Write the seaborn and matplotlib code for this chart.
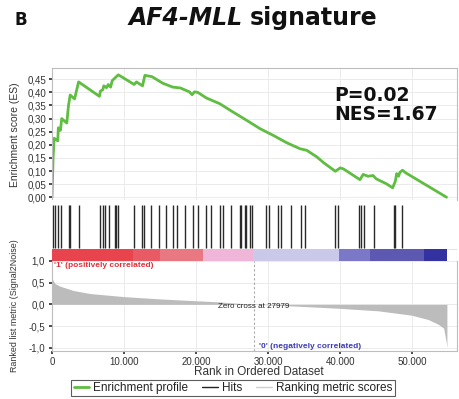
import numpy as np
import pandas as pd
import matplotlib
matplotlib.use("Agg")
import matplotlib.pyplot as plt
from matplotlib.ticker import FuncFormatter
from matplotlib.lines import Line2D
import seaborn as sns

# ---------------- data ----------------
es_rank = [0, 150, 300, 800, 880, 1170, 1350, 2050, 2290, 2520, 3130, 3690,
           6580, 6720, 7050, 7190, 7570, 7800, 8130, 8360, 9200, 10230, 11400,
           11720, 12560, 12890, 13870, 15360, 16760, 17800, 19070, 19440, 19770,
           20230, 21400, 23260, 25120, 26980, 28840, 30700, 32560, 34420, 35350,
           36740, 37730, 39320, 40000, 40450, 42730, 43180, 43860, 44550, 45000,
           46360, 47270, 47640, 47820, 48090, 48270, 48640, 49090, 54750]
es_score = [0.0, 0.15, 0.225, 0.215, 0.265, 0.255, 0.30, 0.283, 0.35, 0.39, 0.375, 0.44,
            0.385, 0.405, 0.41, 0.425, 0.418, 0.43, 0.42, 0.445, 0.467, 0.45, 0.43,
            0.44, 0.425, 0.465, 0.46, 0.435, 0.42, 0.417, 0.402, 0.391, 0.402,
            0.40, 0.379, 0.357, 0.325, 0.294, 0.262, 0.236, 0.208, 0.185, 0.179,
            0.154, 0.131, 0.099, 0.112, 0.108, 0.067, 0.087, 0.080, 0.083, 0.070,
            0.052, 0.036, 0.061, 0.090, 0.080, 0.095, 0.103, 0.093, 0.0]

hit_ranks = [150, 350, 850, 1300, 2350, 2550, 3700, 6650, 7050, 7350, 7850, 8750,
             8950, 9150, 11400, 12450, 12750, 13800, 14900, 15750, 16800, 17350,
             18420, 19570, 20260, 21330, 22120, 23270, 23730, 24890, 26040, 26270,
             26730, 26960, 27420, 27800, 29740, 30100, 31340, 31810, 33200, 34590,
             35040, 39300, 39750, 42660, 42900, 43260, 44740, 47500, 47650, 48520]

metric_rank = [0, 150, 420, 1100, 2950, 5260, 9880, 14500, 19110, 22800, 27979,
               33750, 39750, 45300, 49900, 52200, 53600, 54350, 54700, 54800]
metric_value = [0.62, 0.55, 0.48, 0.42, 0.32, 0.25, 0.18, 0.13, 0.09, 0.06, 0.0,
                -0.04, -0.09, -0.15, -0.25, -0.35, -0.46, -0.55, -0.87, -1.0]

bar_edges = [0, 11300, 15000, 21000, 27960, 39770, 44170, 51570, 54820]
zero_cross = 27979
x_ticks = [0, 10000, 20000, 30000, 40000, 50000]
es_ticks = [0.0, 0.05, 0.10, 0.15, 0.20, 0.25, 0.30, 0.35, 0.40, 0.45]
metric_ticks = [-1.0, -0.5, 0.0, 0.5, 1.0]
p_text = "P=0.02"
nes_text = "NES=1.67"

# ---------------- style ----------------
sns.set_theme(style="white")
plt.rcParams['font.family'] = ['Liberation Sans', 'DejaVu Sans']

W, H = 459, 399
fig = plt.figure(figsize=(W / 100, H / 100), dpi=100)

def fx(px):
    return px / W

def fy(py):
    return 1 - py / H

XMAX = 56200
green = "#5fbd42"
grid_c = "#ebebeb"
spine_c = "#bdbdbd"

# ---------------- ES panel ----------------
ax1 = fig.add_axes([fx(52), fy(200), fx(457) - fx(52), fy(68) - fy(200)])
df_es = pd.DataFrame({"rank": es_rank, "es": es_score})
sns.lineplot(data=df_es, x="rank", y="es", ax=ax1, color=green, lw=2.0,
             sort=False, estimator=None)
ax1.set_xlim(0, XMAX)
ax1.set_ylim(-0.0105, 0.493)
ax1.set_yticks(es_ticks)
ax1.set_xticks(x_ticks)
ax1.yaxis.set_major_formatter(FuncFormatter(lambda v, p: f"{v:.2f}".replace('.', ',')))
ax1.set_xticklabels([])
ax1.set_xlabel("")
ax1.set_ylabel("")
ax1.tick_params(axis='y', labelsize=7, length=2, pad=2, colors="#333333", left=True)
ax1.tick_params(axis='x', length=0)
ax1.grid(True, color=grid_c, lw=0.7)
for s in ax1.spines.values():
    s.set_color(spine_c)
    s.set_linewidth(0.8)
ax1.text(40000 - 900, 0.39, p_text, fontsize=13.5, fontweight='bold',
         family='DejaVu Sans', color="#111111", va='center', ha='left')
ax1.text(40000 - 900, 0.315, nes_text, fontsize=13.5, fontweight='bold',
         family='DejaVu Sans', color="#111111", va='center', ha='left')

# ---------------- hits + colour bar panel ----------------
ax2 = fig.add_axes([fx(52), fy(261), fx(457) - fx(52), fy(200) - fy(261)])
ax2.set_xlim(0, XMAX)
ax2.set_ylim(0, 1)
ax2.vlines(hit_ranks, 0.215, 0.92, color="#2a2a2a", lw=1.0)
bar_colors = ["#e8444d", "#e85a64", "#ea7882", "#f0b6d8",
              "#cbc9e9", "#7b78c8", "#5d59b3", "#3431a0"]
starts = bar_edges[:-1]
widths = list(np.diff(bar_edges))
ax2.barh(y=0.1, width=widths, left=starts, height=0.2, color=bar_colors,
         align='center', edgecolor='none')
ax2.set_xticks([])
ax2.set_yticks([])
for k, s in ax2.spines.items():
    s.set_visible(False)
ax2.axvline(XMAX, ymin=0, ymax=0.2, color=spine_c, lw=0.8)
ax2.axhline(0.2, xmin=bar_edges[-1] / XMAX, xmax=1, color="#dddddd", lw=0.6)

# ---------------- ranked list metric panel ----------------
ax3 = fig.add_axes([fx(52), fy(351), fx(457) - fx(52), fy(261) - fy(351)])
ax3.fill_between(metric_rank, metric_value, 0, color="#bcbcbc", lw=0)
ax3.set_xlim(0, XMAX)
ax3.set_ylim(-1.076, 1.0)
ax3.set_yticks(metric_ticks)
ax3.set_xticks(x_ticks)
ax3.yaxis.set_major_formatter(FuncFormatter(lambda v, p: f"{v:.1f}".replace('.', ',')))
ax3.xaxis.set_major_formatter(FuncFormatter(lambda v, p: f"{int(v):,}".replace(',', '.')))
ax3.tick_params(axis='y', labelsize=7, length=2, pad=3, colors="#333333", left=True)
ax3.tick_params(axis='x', labelsize=7, length=2, pad=2, colors="#333333", bottom=True)
ax3.grid(True, color=grid_c, lw=0.7)
for k, s in ax3.spines.items():
    s.set_color(spine_c)
    s.set_linewidth(0.8)
ax3.spines['top'].set_visible(False)
ax3.axvline(zero_cross, color="#a8a8a8", lw=0.8, ls=(0, (2, 2)))
ax3.text(zero_cross, -0.045, f"Zero cross at {zero_cross}", fontsize=5.8,
         color="#222222", ha='center', va='center')
ax3.text(300, 0.90, "'1' (positively correlated)", fontsize=6, fontweight='bold',
         color="#e0323c", ha='left', va='center')
ax3.text(28700, -0.97, "'0' (negatively correlated)", fontsize=6, fontweight='bold',
         color="#3c3cb4", ha='left', va='center')

# ---------------- labels ----------------
fig.text(fx(15), fy(135), "Enrichment score (ES)", rotation=90, fontsize=7.5,
         color="#333333", ha='center', va='center')
fig.text(fx(15), fy(306), "Ranked list metric (Signal2Noise)", rotation=90,
         fontsize=6.4, color="#333333", ha='center', va='center')
fig.text(fx(259), fy(375), "Rank in Ordered Dataset", fontsize=8.5,
         color="#333333", ha='center', va='baseline')

# ---------------- title ----------------
fig.text(fx(14), fy(25), "B", fontsize=12, fontweight='bold', family='DejaVu Sans',
         color="#111111", ha='left', va='baseline')
fig.text(fx(243), fy(25), "AF4-MLL", fontsize=17, fontweight='bold', style='italic',
         family='DejaVu Sans', color="#111111", ha='right', va='baseline')
fig.text(fx(250), fy(25), "signature", fontsize=17, fontweight='bold',
         family='DejaVu Sans', color="#111111", ha='left', va='baseline')

# ---------------- legend ----------------
handles = [Line2D([], [], color=green, lw=2),
           Line2D([], [], color="#222222", lw=1),
           Line2D([], [], color="#cfcfcf", lw=1)]
labels = ["Enrichment profile", "Hits", "Ranking metric scores"]
leg = fig.legend(handles, labels, loc='center', bbox_to_anchor=(fx(233), fy(388)),
                 ncol=3, fontsize=8.5, frameon=True, fancybox=False,
                 handlelength=1.3, handletextpad=0.35, columnspacing=1.2,
                 borderpad=0.2, borderaxespad=0)
leg.get_frame().set_edgecolor("#333333")
leg.get_frame().set_linewidth(0.8)
for t in leg.get_texts():
    t.set_color("#222222")

fig.savefig("out.png", dpi=100)
